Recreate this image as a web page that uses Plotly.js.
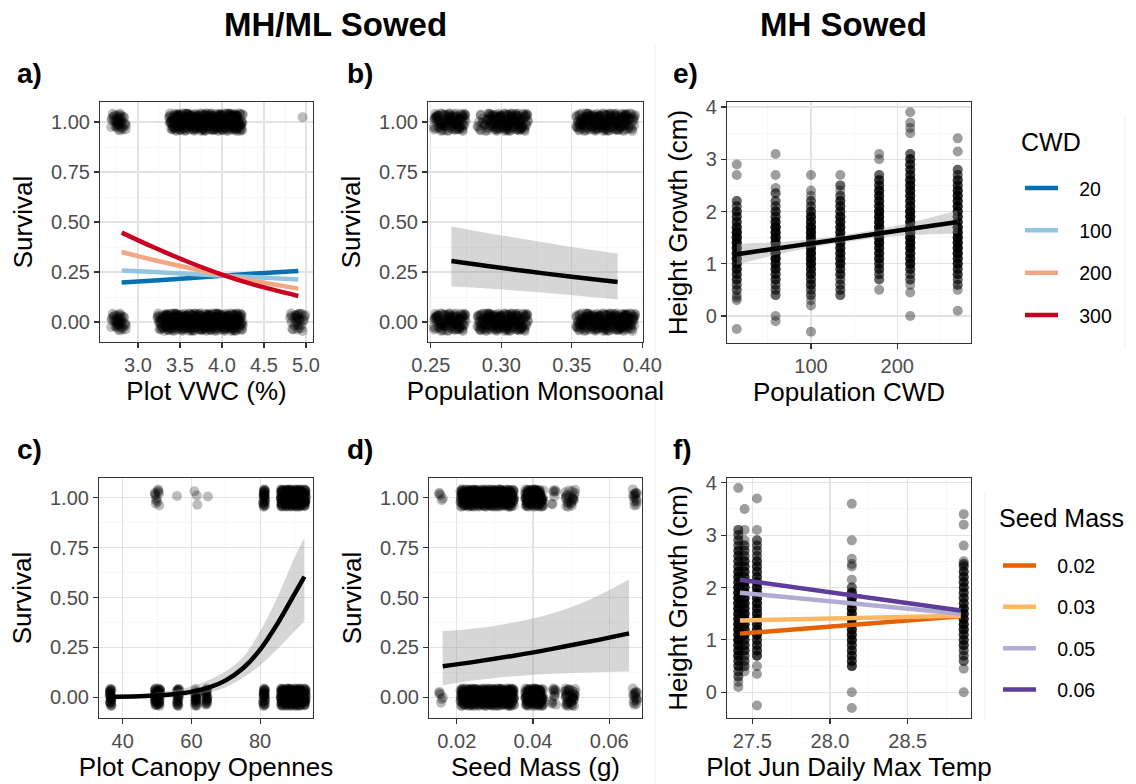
<!DOCTYPE html>
<html><head><meta charset="utf-8">
<script src="https://cdn.plot.ly/plotly-3.0.1.min.js"></script>
<style>html,body{margin:0;padding:0;background:#fff}</style>
</head><body><div id="chart" style="width:1136px;height:784px"></div>
<script>
// ================= DATA =================
// Panel a: survival vs plot VWC (%), counts of seedlings per plot VWC value
const aDeadVWC = [2.74, 2.80, 3.29, 3.39, 3.49, 3.59, 3.69, 3.79, 3.89, 3.99, 4.09, 4.19, 4.87, 4.93];
const aDeadN   = [20, 20, 30, 40, 40, 40, 40, 40, 40, 40, 40, 40, 16, 16];
const aLiveVWC = [2.74, 2.80, 3.43, 3.53, 3.63, 3.73, 3.83, 3.93, 4.03, 4.13, 4.19, 4.99];
const aLiveN   = [20, 20, 36, 40, 40, 40, 40, 40, 40, 40, 40, 1];
const aFitVWC    = [2.806, 3.2, 3.6, 4.0, 4.4, 4.908];
const aFitCWD20  = [0.198, 0.208, 0.219, 0.231, 0.242, 0.255];
const aFitCWD100 = [0.258, 0.250, 0.241, 0.232, 0.224, 0.212];
const aFitCWD200 = [0.350, 0.309, 0.271, 0.235, 0.204, 0.167];
const aFitCWD300 = [0.447, 0.371, 0.300, 0.237, 0.184, 0.130];
const cwdLevels  = ['20', '100', '200', '300'];

// Panel b: survival vs population monsoonality
const bMonsoon = [0.256, 0.264, 0.271, 0.287, 0.294, 0.301, 0.308, 0.315, 0.357, 0.364, 0.371, 0.378, 0.385, 0.391];
const bDeadN   = [35, 35, 35, 35, 40, 40, 40, 35, 35, 40, 40, 40, 40, 35];
const bLiveN   = [35, 35, 35, 16, 35, 40, 40, 35, 35, 40, 40, 40, 35, 24];
const bFitX = [0.2646, 0.29, 0.32, 0.35, 0.3825];
const bFit  = [0.305, 0.280, 0.252, 0.226, 0.200];
const bHi   = [0.477, 0.445, 0.410, 0.375, 0.343];
const bLo   = [0.177, 0.168, 0.152, 0.134, 0.113];

// Panel c: survival vs plot canopy openness
const cDeadCanopy = [36.5, 49.6, 50.6, 56.1, 61.3, 64.4, 81.2, 86.3, 87.7, 89.0, 90.3, 91.6, 93.0];
const cDeadN      = [30, 30, 30, 25, 25, 25, 30, 30, 40, 40, 40, 40, 30];
const cLiveCanopy = [49.6, 50.4, 55.9, 61.0, 61.6, 64.6, 81.2, 86.3, 87.7, 89.0, 90.3, 91.6, 93.0];
const cLiveN      = [6, 6, 1, 1, 2, 1, 30, 30, 40, 40, 40, 40, 30];
const cFitX = [35.5, 45, 55, 60, 65, 70, 75, 80, 85, 90, 92.9];
const cFit  = [0.001, 0.004, 0.014, 0.026, 0.047, 0.084, 0.145, 0.238, 0.367, 0.517, 0.605];
const cHi   = [0.006, 0.013, 0.035, 0.055, 0.085, 0.130, 0.200, 0.330, 0.500, 0.700, 0.800];
const cLo   = [0.000, 0.001, 0.005, 0.011, 0.024, 0.050, 0.097, 0.160, 0.240, 0.330, 0.380];

// Panel d: survival vs seed mass (g)
const dSeedMass = [0.0158, 0.0215, 0.0228, 0.0241, 0.0254, 0.0267, 0.0280, 0.0293, 0.0306, 0.0319, 0.0332, 0.0345, 0.0385, 0.0398, 0.0411, 0.0421, 0.0455, 0.0490, 0.0505, 0.0668];
const dDeadN    = [6, 35, 35, 35, 35, 35, 35, 35, 35, 35, 35, 35, 35, 35, 35, 35, 12, 20, 20, 16];
const dLiveN    = [5, 35, 35, 35, 35, 35, 35, 35, 35, 35, 35, 30, 35, 35, 35, 28, 7, 12, 12, 14];
const dFitX = [0.0163, 0.025, 0.035, 0.045, 0.055, 0.0652];
const dFit  = [0.155, 0.178, 0.208, 0.242, 0.279, 0.320];
const dHi   = [0.330, 0.345, 0.375, 0.420, 0.490, 0.590];
const dLo   = [0.060, 0.085, 0.105, 0.117, 0.124, 0.128];

// Panel e: height growth (cm) vs population CWD (values and counts per population)
const eCWD = [14, 59, 100, 134, 179, 215, 270];
const eGrowth14  = [2.9, 2.7, 2.2, 2.1, 2.0, 1.9, 1.8, 1.7, 1.6, 1.5, 1.4, 1.3, 1.2, 1.1, 1.0, 0.9, 0.8, 0.7, 0.6, 0.5, 0.4, 0.35, 0.3, -0.25];
const eCount14   = [1, 1, 2, 2, 3, 3, 3, 4, 5, 5, 5, 5, 5, 5, 4, 4, 3, 3, 2, 2, 1, 1, 1, 1];
const eGrowth59  = [3.1, 2.7, 2.45, 2.35, 2.2, 2.1, 2.0, 1.9, 1.8, 1.7, 1.6, 1.5, 1.4, 1.3, 1.2, 1.1, 1.0, 0.9, 0.8, 0.7, 0.6, 0.5, 0.4, 0.0, -0.1];
const eCount59   = [1, 1, 1, 2, 2, 2, 3, 3, 4, 5, 5, 5, 5, 5, 5, 5, 4, 4, 3, 3, 2, 2, 2, 1, 1];
const eGrowth100 = [2.7, 2.4, 2.3, 2.2, 2.1, 2.0, 1.9, 1.8, 1.7, 1.6, 1.5, 1.4, 1.3, 1.2, 1.1, 1.0, 0.9, 0.8, 0.7, 0.6, 0.5, 0.4, 0.3, 0.2, -0.3];
const eCount100  = [1, 1, 1, 2, 2, 3, 4, 4, 5, 5, 5, 5, 5, 5, 5, 5, 4, 4, 3, 3, 2, 2, 1, 1, 1];
const eGrowth134 = [2.7, 2.5, 2.4, 2.3, 2.2, 2.1, 2.0, 1.9, 1.8, 1.7, 1.6, 1.5, 1.4, 1.3, 1.2, 1.1, 1.0, 0.9, 0.8, 0.7, 0.6, 0.5, 0.4];
const eCount134  = [1, 2, 1, 2, 3, 3, 3, 4, 4, 4, 4, 4, 4, 4, 4, 4, 4, 3, 3, 2, 2, 2, 2];
const eGrowth179 = [3.1, 3.0, 2.7, 2.6, 2.5, 2.4, 2.3, 2.2, 2.1, 2.0, 1.9, 1.8, 1.7, 1.6, 1.5, 1.4, 1.3, 1.2, 1.1, 1.0, 0.9, 0.8, 0.7, 0.5];
const eCount179  = [1, 1, 2, 3, 3, 4, 4, 4, 4, 5, 5, 5, 5, 5, 5, 5, 4, 4, 4, 3, 3, 2, 2, 1];
const eGrowth215 = [3.9, 3.7, 3.6, 3.5, 3.1, 3.0, 2.9, 2.8, 2.7, 2.6, 2.5, 2.4, 2.3, 2.2, 2.1, 2.0, 1.9, 1.8, 1.7, 1.6, 1.5, 1.4, 1.3, 1.2, 1.1, 1.0, 0.9, 0.8, 0.7, 0.6, 0.45, 0.0];
const eCount215  = [1, 1, 1, 1, 2, 3, 3, 3, 3, 4, 4, 4, 4, 4, 4, 5, 5, 5, 5, 5, 5, 5, 5, 4, 4, 4, 3, 2, 2, 1, 1, 1];
const eGrowth270 = [3.4, 3.15, 2.8, 2.7, 2.6, 2.5, 2.4, 2.3, 2.2, 2.1, 2.0, 1.9, 1.8, 1.7, 1.6, 1.5, 1.4, 1.3, 1.2, 1.1, 1.0, 0.9, 0.8, 0.7, 0.6, 0.5, 0.1];
const eCount270  = [1, 1, 2, 2, 3, 3, 4, 4, 4, 4, 4, 4, 4, 5, 5, 5, 5, 5, 5, 4, 4, 3, 3, 2, 2, 1, 1];
const eFitX = [14, 75, 140, 200, 270];
const eFit  = [1.18, 1.328, 1.485, 1.63, 1.80];
const eHi   = [1.38, 1.43, 1.555, 1.73, 2.02];
const eLo   = [0.98, 1.23, 1.415, 1.53, 1.58];

// Panel f: height growth (cm) vs plot June daily max temp
const fTemp = [27.41, 27.45, 27.53, 28.14, 28.86];
const fGrowthA = [3.9, 3.1, 3.0, 2.9, 2.8, 2.7, 2.6, 2.5, 2.4, 2.3, 2.2, 2.1, 2.0, 1.9, 1.8, 1.7, 1.6, 1.5, 1.4, 1.3, 1.2, 1.1, 1.0, 0.9, 0.8, 0.7, 0.6, 0.5, 0.4, 0.3, 0.2, 0.1];
const fCountA  = [1, 2, 2, 2, 2, 3, 3, 3, 3, 4, 4, 4, 5, 5, 5, 5, 5, 5, 5, 5, 5, 5, 5, 4, 4, 4, 3, 3, 2, 2, 1, 1];
const fGrowthB = [3.5, 3.1, 2.9, 2.8, 2.7, 2.6, 2.5, 2.4, 2.3, 2.2, 2.1, 2.0, 1.9, 1.8, 1.7, 1.6, 1.5, 1.4, 1.3, 1.2, 1.1, 1.0, 0.9, 0.8, 0.7, 0.6, 0.5, 0.4];
const fCountB  = [1, 1, 1, 2, 2, 2, 3, 3, 3, 3, 4, 4, 4, 4, 4, 4, 4, 4, 4, 4, 4, 3, 3, 3, 2, 2, 2, 1];
const fGrowthC = [3.7, 3.1, 2.9, 2.8, 2.7, 2.6, 2.5, 2.4, 2.3, 2.2, 2.1, 2.0, 1.9, 1.8, 1.7, 1.6, 1.5, 1.4, 1.3, 1.2, 1.1, 1.0, 0.9, 0.8, 0.7, 0.5, 0.35, -0.25];
const fCountC  = [1, 1, 2, 2, 2, 2, 3, 3, 3, 3, 4, 4, 4, 4, 4, 4, 4, 4, 4, 4, 4, 3, 3, 3, 3, 1, 1, 1];
const fGrowthD = [3.6, 2.9, 2.55, 2.45, 2.4, 2.15, 2.0, 1.9, 1.8, 1.7, 1.6, 1.5, 1.4, 1.3, 1.2, 1.1, 1.0, 0.9, 0.8, 0.7, 0.6, 0.5, 0.0, -0.3];
const fCountD  = [1, 1, 1, 1, 1, 1, 2, 4, 4, 4, 4, 4, 4, 4, 4, 4, 4, 3, 3, 3, 3, 3, 1, 1];
const fGrowthE = [3.4, 3.2, 2.8, 2.5, 2.45, 2.4, 2.3, 2.2, 2.1, 2.0, 1.9, 1.8, 1.7, 1.6, 1.5, 1.4, 1.3, 1.2, 1.1, 1.0, 0.9, 0.8, 0.7, 0.6, 0.45, 0.0];
const fCountE  = [1, 1, 1, 1, 2, 2, 3, 3, 3, 3, 3, 3, 3, 4, 4, 4, 4, 4, 3, 3, 3, 2, 2, 2, 1, 1];
const fFitTemp = [27.42, 28.84];
const fFitSM02 = [1.12, 1.45];
const fFitSM03 = [1.37, 1.46];
const fFitSM05 = [1.90, 1.50];
const fFitSM06 = [2.15, 1.56];
const seedLevels = ['0.02', '0.03', '0.05', '0.06'];

// ================= STYLE =================
const W = 1136, H = 784;
const FONT = 'Liberation Sans, Arial, Helvetica, sans-serif';
const cwdColors  = ['#0571b0', '#92c5de', '#f4a582', '#ca0020'];
const seedColors = ['#e66101', '#fdb863', '#b2abd2', '#5e3c99'];
// fixed jitter offsets (display only, like geom_jitter)
const JIT_X = [-0.82,0.37,-0.15,0.91,-0.56,0.08,0.64,-0.33,-0.97,0.22,0.75,-0.68,0.49,-0.04,-0.41,0.86,-0.23,0.58,-0.89,0.13,0.33,-0.74,0.96,-0.52,0.02,0.69,-0.29,-0.61,0.44,-0.11,0.81,-0.93,0.27,-0.46,0.55,-0.19,0.71,-0.78,0.17,-0.37];
const JIT_Y = [0.44,-0.71,0.12,-0.25,0.88,-0.93,0.31,0.67,-0.48,-0.06,0.79,-0.36,0.58,-0.84,0.21,-0.62,0.95,0.03,-0.17,0.49,-0.99,0.73,-0.42,0.36,-0.55,0.09,0.84,-0.28,-0.77,0.62,-0.13,0.27,-0.66,0.91,-0.39,0.16,-0.87,0.53,0.71,-0.02];

function jitterCloud(vals, counts, outcome, wx, wy) {
  const xs = [], ys = [];
  vals.forEach((v, i) => {
    for (let k = 0; k < counts[i]; k++) {
      xs.push(v + wx * JIT_X[(k + 13 * i) % JIT_X.length]);
      ys.push(outcome + wy * JIT_Y[(3 * k + 7 * i) % JIT_Y.length]);
    }
  });
  return {x: xs, y: ys};
}
function stackColumns(xvals, cols, counts) {
  const xs = [], ys = [];
  xvals.forEach((xv, c) => {
    cols[c].forEach((y, i) => { for (let k = 0; k < counts[c][i]; k++) { xs.push(xv); ys.push(y); } });
  });
  return {x: xs, y: ys};
}

const traces = [];
const survMarker = {size: 10, color: 'rgba(0,0,0,0.26)', line: {width: 0}};
const growMarker = {size: 10, color: 'rgba(0,0,0,0.38)', line: {width: 0}};
function pts(cloud, xa, ya, marker) {
  traces.push({type: 'scatter', mode: 'markers', x: cloud.x, y: cloud.y, xaxis: xa, yaxis: ya,
    marker: marker, showlegend: false, hoverinfo: 'skip'});
}
function ribbon(x, lo, hi, xa, ya) {
  traces.push({type: 'scatter', mode: 'lines', x: x, y: lo, xaxis: xa, yaxis: ya, line: {width: 0, shape: 'spline'}, showlegend: false, hoverinfo: 'skip'});
  traces.push({type: 'scatter', mode: 'lines', x: x, y: hi, xaxis: xa, yaxis: ya, line: {width: 0, shape: 'spline'}, fill: 'tonexty', fillcolor: 'rgba(153,153,153,0.4)', showlegend: false, hoverinfo: 'skip'});
}
const NB = '\u00a0';
function fitLine(x, y, xa, ya, color, name, legend) {
  traces.push({type: 'scatter', mode: 'lines', x: x, y: y, xaxis: xa, yaxis: ya,
    line: {color: color, width: 4.5, shape: 'spline'}, name: name ? NB + NB + NB + name : 'fit', showlegend: !!name,
    legend: legend || 'legend', legendgroup: name ? (legend + name) : undefined, hoverinfo: 'skip'});
}

// a
pts(jitterCloud(aDeadVWC, aDeadN, 0, 0.06, 0.045), 'x', 'y', survMarker);
pts(jitterCloud(aLiveVWC, aLiveN, 1, 0.06, 0.045), 'x', 'y', survMarker);
[aFitCWD20, aFitCWD100, aFitCWD200, aFitCWD300].forEach((ys, i) => fitLine(aFitVWC, ys, 'x', 'y', cwdColors[i], cwdLevels[i], 'legend'));
// b
pts(jitterCloud(bMonsoon, bDeadN, 0, 0.004, 0.045), 'x2', 'y2', survMarker);
pts(jitterCloud(bMonsoon, bLiveN, 1, 0.004, 0.045), 'x2', 'y2', survMarker);
ribbon(bFitX, bLo, bHi, 'x2', 'y2');
fitLine(bFitX, bFit, 'x2', 'y2', '#000000');
// e
pts(stackColumns(eCWD, [eGrowth14, eGrowth59, eGrowth100, eGrowth134, eGrowth179, eGrowth215, eGrowth270],
  [eCount14, eCount59, eCount100, eCount134, eCount179, eCount215, eCount270]), 'x3', 'y3', growMarker);
ribbon(eFitX, eLo, eHi, 'x3', 'y3');
fitLine(eFitX, eFit, 'x3', 'y3', '#000000');
// c
pts(jitterCloud(cDeadCanopy, cDeadN, 0, 0.3, 0.045), 'x4', 'y4', survMarker);
pts(jitterCloud(cLiveCanopy, cLiveN, 1, 0.3, 0.045), 'x4', 'y4', survMarker);
ribbon(cFitX, cLo, cHi, 'x4', 'y4');
fitLine(cFitX, cFit, 'x4', 'y4', '#000000');
// d
pts(jitterCloud(dSeedMass, dDeadN, 0, 0.0006, 0.045), 'x5', 'y5', survMarker);
pts(jitterCloud(dSeedMass, dLiveN, 1, 0.0006, 0.045), 'x5', 'y5', survMarker);
ribbon(dFitX, dLo, dHi, 'x5', 'y5');
fitLine(dFitX, dFit, 'x5', 'y5', '#000000');
// f
pts(stackColumns(fTemp, [fGrowthA, fGrowthB, fGrowthC, fGrowthD, fGrowthE], [fCountA, fCountB, fCountC, fCountD, fCountE]), 'x6', 'y6', growMarker);
[fFitSM02, fFitSM03, fFitSM05, fFitSM06].forEach((ys, i) => fitLine(fFitTemp, ys, 'x6', 'y6', seedColors[i], seedLevels[i], 'legend2'));

// ================= LAYOUT =================
const dx = (p0, p1) => [p0 / W, p1 / W];
const dy = (top, bottom) => [1 - bottom / H, 1 - top / H];
function axis(domain, range, anchor, tick0, dtick, minorDtick, fmt, title, standoff) {
  return {domain: domain, range: range, anchor: anchor, tickmode: 'linear', tick0: tick0, dtick: dtick, tickformat: fmt,
    showline: true, mirror: true, linecolor: '#333333', linewidth: 1.1,
    ticks: 'outside', ticklen: 5, tickwidth: 1.1, tickcolor: '#333333',
    tickfont: {family: FONT, size: 20, color: '#4d4d4d'},
    showgrid: true, gridcolor: '#e3e3e3', gridwidth: 1.1, zeroline: false,
    minor: {tick0: tick0, dtick: minorDtick, showgrid: true, gridcolor: '#f2f2f2', gridwidth: 0.6, ticks: ''},
    title: {text: title, font: {family: FONT, size: 26, color: '#000000'}, standoff: standoff},
    fixedrange: true};
}
function ann(text, px, py, size, anchor) {
  return {text: text, x: px / W, y: 1 - py / H, xref: 'paper', yref: 'paper', xanchor: anchor, yanchor: 'middle',
    showarrow: false, font: {family: FONT, size: size, color: '#000000'}};
}
const layout = {
  width: W, height: H, margin: {l: 0, r: 0, t: 0, b: 0},
  paper_bgcolor: '#ffffff', plot_bgcolor: '#ffffff',
  font: {family: FONT},
  xaxis:  axis(dx(100, 313), [2.548, 5.083], 'y', 3, 0.5, 0.25, '.1f', 'Plot VWC (%)', 3),
  yaxis:  axis(dy(102, 342), [-0.1, 1.1], 'x', 0, 0.25, 0.125, '.2f', 'Survival', 10),
  xaxis2: axis(dx(428, 643), [0.248, 0.4005], 'y2', 0.25, 0.05, 0.025, '.2f', 'Population Monsoonal' + NB + NB + NB + NB, 3),
  yaxis2: axis(dy(102, 342), [-0.1, 1.1], 'x2', 0, 0.25, 0.125, '.2f', 'Survival', 10),
  xaxis3: axis(dx(727, 971), [2.7, 285.4], 'y3', 0, 100, 50, 'd', 'Population CWD', 3),
  yaxis3: axis(dy(102, 343), [-0.517, 4.096], 'x3', 0, 1, 0.5, 'd', 'Height Growth (cm)', 10),
  xaxis4: axis(dx(99, 313), [33.1, 95.4], 'y4', 0, 20, 10, 'd', 'Plot Canopy Opennes' + NB + NB, 0),
  yaxis4: axis(dy(478, 718), [-0.105, 1.1], 'x4', 0, 0.25, 0.125, '.2f', 'Survival', 10),
  xaxis5: axis(dx(429, 642), [0.0127, 0.0686], 'y5', 0, 0.02, 0.01, '.2f', 'Seed Mass (g)', 0),
  yaxis5: axis(dy(478, 718), [-0.105, 1.1], 'x5', 0, 0.25, 0.125, '.2f', 'Survival', 10),
  xaxis6: axis(dx(727, 971), [27.337, 28.907], 'y6', 27.5, 0.5, 0.25, '.1f', 'Plot Jun Daily Max Temp', 0),
  yaxis6: axis(dy(478, 718), [-0.49, 4.09], 'x6', 0, 1, 0.5, 'd', 'Height Growth (cm)', 10),
  legend: {x: 1020 / W, xanchor: 'left', y: 1 - 168.8 / H, yanchor: 'top', bgcolor: 'rgba(0,0,0,0)', borderwidth: 0,
    font: {family: FONT, size: 19.5, color: '#000000'},
    traceorder: 'grouped', tracegroupgap: 14, itemwidth: 33, itemclick: false, itemdoubleclick: false},
  legend2: {x: 998 / W, xanchor: 'left', y: 1 - 546.3 / H, yanchor: 'top', bgcolor: 'rgba(0,0,0,0)', borderwidth: 0,
    font: {family: FONT, size: 19.5, color: '#000000'},
    traceorder: 'grouped', tracegroupgap: 13, itemwidth: 33, itemclick: false, itemdoubleclick: false},
  annotations: [
    ann('<b>MH/ML Sowed</b>', 335, 24, 33, 'center'),
    ann('<b>MH Sowed</b>', 843, 24, 33, 'center'),
    ann('<b>a)</b>', 15, 73, 28, 'left'),
    ann('<b>b)</b>', 345, 73, 28, 'left'),
    ann('<b>e)</b>', 671, 73, 28, 'left'),
    ann('<b>c)</b>', 15, 449, 28, 'left'),
    ann('<b>d)</b>', 345, 449, 28, 'left'),
    ann('<b>f)</b>', 671, 449, 28, 'left'),
    // legend titles
    ann('CWD', 1019, 142, 25, 'left'),
    ann('Seed Mass', 997, 518, 25, 'left')
  ],
  shapes: [
    {type: 'line', xref: 'paper', yref: 'paper', x0: 655 / W, x1: 655 / W, y0: 0, y1: 1 - 45 / H, line: {color: '#efefef', width: 1}, layer: 'below'},
    {type: 'line', xref: 'paper', yref: 'paper', x0: 1125 / W, x1: 1125 / W, y0: 1 - 347 / H, y1: 1 - 117 / H, line: {color: '#efefef', width: 1}, layer: 'below'},
    {type: 'line', xref: 'paper', yref: 'paper', x0: 985 / W, x1: 985 / W, y0: 1 - 720 / H, y1: 1 - 492 / H, line: {color: '#efefef', width: 1}, layer: 'below'}
  ]
};
Plotly.newPlot('chart', traces, layout, {displayModeBar: false, staticPlot: true});
</script>
</body></html>
